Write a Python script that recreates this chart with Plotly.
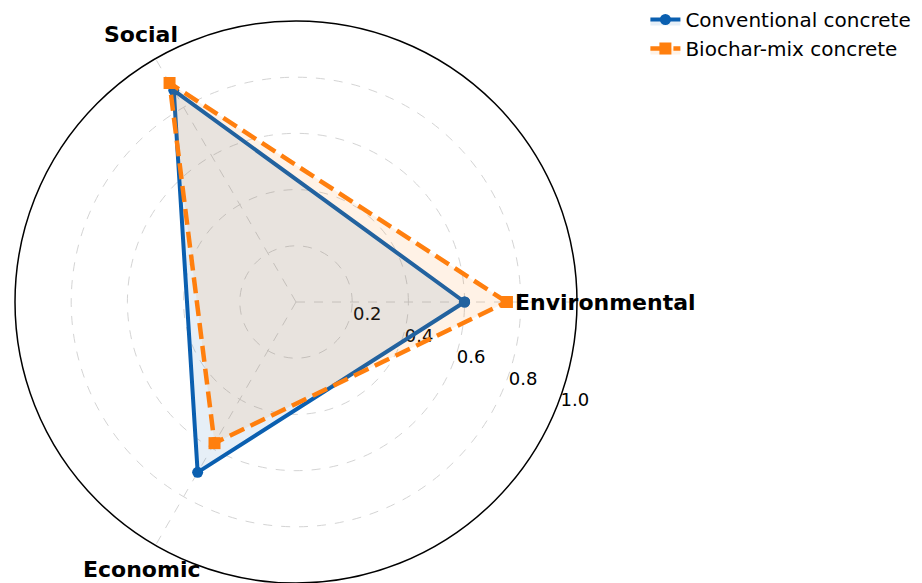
import math
import plotly.graph_objects as go

# Sustainability dimensions and normalised scores
categories = ["Environmental", "Social", "Economic"]
angles = [0, 120, 240]
conventional = [0.60, 0.87, 0.70]
biochar = [0.75, 0.90, 0.58]
radial_ticks = [0.2, 0.4, 0.6, 0.8, 1.0]
radial_ticktext = ["0.2", "0.4", "0.6", "0.8", "1.0"]
label_radius = 1.1

BLUE = "#0a5fb0"
ORANGE = "#ff7f0e"

W, H = 922, 583
# polar area in pixels (left, right, top, bottom)
PX0, PX1, PY0, PY1 = 15, 577, 21, 583


def closed(vals):
    return list(vals) + [vals[0]]


fig = go.Figure()

fig.add_trace(go.Scatterpolar(
    r=closed(conventional),
    theta=closed(angles),
    mode="lines+markers",
    name="Conventional concrete",
    line=dict(color=BLUE, width=4),
    marker=dict(symbol="circle", size=11, color=BLUE),
    fill="toself",
    fillcolor="rgba(10,95,176,0.10)",
))

fig.add_trace(go.Scatterpolar(
    r=closed(biochar),
    theta=closed(angles),
    mode="lines+markers",
    name="Biochar-mix concrete",
    line=dict(color=ORANGE, width=4.5, dash="16px,7px"),
    marker=dict(symbol="square", size=12, color=ORANGE),
    fill="toself",
    fillcolor="rgba(255,127,14,0.10)",
))

# Category labels just outside the outer ring, positioned from the polar geometry
cx = (PX0 + PX1) / 2
cy = (PY0 + PY1) / 2
R = (PX1 - PX0) / 2
annotations = []
for name, ang in zip(categories, angles):
    t = math.radians(ang)
    px = cx + label_radius * R * math.cos(t)
    py = cy - label_radius * R * math.sin(t)
    annotations.append(dict(
        x=px / W, y=1 - py / H, xref="paper", yref="paper",
        text=f"<b>{name}</b>", showarrow=False,
        xanchor="center", yanchor="middle",
        font=dict(family="DejaVu Sans", size=22, color="black"),
    ))

fig.update_layout(
    width=W,
    height=H,
    margin=dict(l=0, r=0, t=0, b=0),
    paper_bgcolor="white",
    plot_bgcolor="white",
    font=dict(family="DejaVu Sans", color="black"),
    annotations=annotations,
    polar=dict(
        domain=dict(x=[PX0 / W, PX1 / W], y=[1 - PY1 / H, 1 - PY0 / H]),
        bgcolor="white",
        radialaxis=dict(
            range=[0, 1.0],
            tickvals=radial_ticks,
            ticktext=radial_ticktext,
            angle=-22.5,
            tickangle=-22.5,
            side="counterclockwise",
            showline=False,
            ticks="",
            gridcolor="#d4d4d4",
            griddash="dash",
            gridwidth=1,
            tickfont=dict(family="DejaVu Sans", size=18, color="black"),
            layer="below traces",
        ),
        angularaxis=dict(
            tickvals=angles,
            showticklabels=False,
            ticks="",
            rotation=0,
            direction="counterclockwise",
            showline=True,
            linecolor="black",
            linewidth=1.5,
            gridcolor="#d4d4d4",
            griddash="dash",
            gridwidth=1,
            layer="below traces",
        ),
    ),
    legend=dict(
        x=0.70,
        y=1.0,
        xanchor="left",
        yanchor="top",
        font=dict(family="DejaVu Sans", size=20, color="black"),
        bgcolor="rgba(255,255,255,0)",
        tracegroupgap=0,
    ),
)

fig.write_html("out.html")
